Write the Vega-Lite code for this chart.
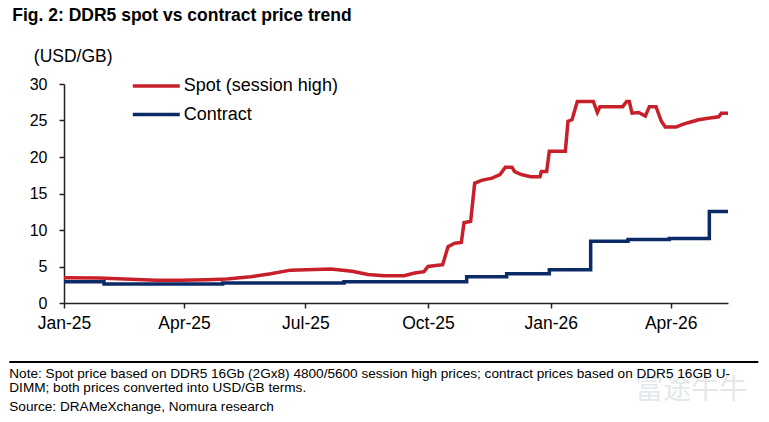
{
  "$schema": "https://vega.github.io/schema/vega-lite/v6.json",
  "padding": {"left": 8, "top": 6, "right": 5, "bottom": 0},
  "background": "white",
  "title": {
    "text": "Fig. 2: DDR5 spot vs contract price trend",
    "anchor": "start",
    "frame": "bounds",
    "font": "Liberation Sans",
    "fontSize": 17.5,
    "fontWeight": "bold",
    "color": "#000",
    "dx": 4,
    "offset": 23.5
  },
  "spacing": 29,
  "datasets": {
    "spot": [
      {"date": "2025-01-01", "series": "Spot (session high)", "value": 3.45},
      {"date": "2025-01-27", "series": "Spot (session high)", "value": 3.42},
      {"date": "2025-02-20", "series": "Spot (session high)", "value": 3.25},
      {"date": "2025-03-11", "series": "Spot (session high)", "value": 3.1},
      {"date": "2025-03-30", "series": "Spot (session high)", "value": 3.1},
      {"date": "2025-04-18", "series": "Spot (session high)", "value": 3.2},
      {"date": "2025-05-03", "series": "Spot (session high)", "value": 3.3},
      {"date": "2025-05-21", "series": "Spot (session high)", "value": 3.6},
      {"date": "2025-06-05", "series": "Spot (session high)", "value": 4.0},
      {"date": "2025-06-20", "series": "Spot (session high)", "value": 4.5},
      {"date": "2025-07-20", "series": "Spot (session high)", "value": 4.65},
      {"date": "2025-08-05", "series": "Spot (session high)", "value": 4.35},
      {"date": "2025-08-17", "series": "Spot (session high)", "value": 3.9},
      {"date": "2025-08-29", "series": "Spot (session high)", "value": 3.75},
      {"date": "2025-09-13", "series": "Spot (session high)", "value": 3.75},
      {"date": "2025-09-21", "series": "Spot (session high)", "value": 4.1},
      {"date": "2025-09-28", "series": "Spot (session high)", "value": 4.3},
      {"date": "2025-10-01", "series": "Spot (session high)", "value": 5.0},
      {"date": "2025-10-12", "series": "Spot (session high)", "value": 5.25},
      {"date": "2025-10-16", "series": "Spot (session high)", "value": 7.7},
      {"date": "2025-10-21", "series": "Spot (session high)", "value": 8.2},
      {"date": "2025-10-26", "series": "Spot (session high)", "value": 8.3},
      {"date": "2025-10-28", "series": "Spot (session high)", "value": 11.0},
      {"date": "2025-11-02", "series": "Spot (session high)", "value": 11.2},
      {"date": "2025-11-05", "series": "Spot (session high)", "value": 16.4},
      {"date": "2025-11-10", "series": "Spot (session high)", "value": 16.8},
      {"date": "2025-11-18", "series": "Spot (session high)", "value": 17.1},
      {"date": "2025-11-24", "series": "Spot (session high)", "value": 17.6},
      {"date": "2025-11-28", "series": "Spot (session high)", "value": 18.6},
      {"date": "2025-12-03", "series": "Spot (session high)", "value": 18.6},
      {"date": "2025-12-05", "series": "Spot (session high)", "value": 18.0},
      {"date": "2025-12-10", "series": "Spot (session high)", "value": 17.6},
      {"date": "2025-12-17", "series": "Spot (session high)", "value": 17.3},
      {"date": "2025-12-24", "series": "Spot (session high)", "value": 17.3},
      {"date": "2025-12-25", "series": "Spot (session high)", "value": 18.0},
      {"date": "2025-12-29", "series": "Spot (session high)", "value": 18.0},
      {"date": "2025-12-31", "series": "Spot (session high)", "value": 20.8},
      {"date": "2026-01-12", "series": "Spot (session high)", "value": 20.8},
      {"date": "2026-01-14", "series": "Spot (session high)", "value": 24.9},
      {"date": "2026-01-17", "series": "Spot (session high)", "value": 25.1},
      {"date": "2026-01-21", "series": "Spot (session high)", "value": 27.6},
      {"date": "2026-02-02", "series": "Spot (session high)", "value": 27.6},
      {"date": "2026-02-05", "series": "Spot (session high)", "value": 26.1},
      {"date": "2026-02-07", "series": "Spot (session high)", "value": 26.9},
      {"date": "2026-02-24", "series": "Spot (session high)", "value": 26.9},
      {"date": "2026-02-27", "series": "Spot (session high)", "value": 27.6},
      {"date": "2026-03-01", "series": "Spot (session high)", "value": 27.6},
      {"date": "2026-03-03", "series": "Spot (session high)", "value": 26.0},
      {"date": "2026-03-08", "series": "Spot (session high)", "value": 26.1},
      {"date": "2026-03-13", "series": "Spot (session high)", "value": 25.6},
      {"date": "2026-03-16", "series": "Spot (session high)", "value": 26.9},
      {"date": "2026-03-21", "series": "Spot (session high)", "value": 26.9},
      {"date": "2026-03-25", "series": "Spot (session high)", "value": 24.9},
      {"date": "2026-03-28", "series": "Spot (session high)", "value": 24.1},
      {"date": "2026-04-05", "series": "Spot (session high)", "value": 24.1},
      {"date": "2026-04-09", "series": "Spot (session high)", "value": 24.4},
      {"date": "2026-04-14", "series": "Spot (session high)", "value": 24.7},
      {"date": "2026-04-22", "series": "Spot (session high)", "value": 25.1},
      {"date": "2026-04-29", "series": "Spot (session high)", "value": 25.3},
      {"date": "2026-05-07", "series": "Spot (session high)", "value": 25.5},
      {"date": "2026-05-09", "series": "Spot (session high)", "value": 26.0},
      {"date": "2026-05-14", "series": "Spot (session high)", "value": 26.0}
    ],
    "contract": [
      {"date": "2025-01-01", "series": "Contract", "value": 2.9},
      {"date": "2025-01-31", "series": "Contract", "value": 2.6},
      {"date": "2025-04-30", "series": "Contract", "value": 2.75},
      {"date": "2025-07-30", "series": "Contract", "value": 2.9},
      {"date": "2025-10-30", "series": "Contract", "value": 3.6},
      {"date": "2025-11-29", "series": "Contract", "value": 4.0},
      {"date": "2025-12-31", "series": "Contract", "value": 4.55},
      {"date": "2026-01-31", "series": "Contract", "value": 8.45},
      {"date": "2026-02-28", "series": "Contract", "value": 8.7},
      {"date": "2026-03-31", "series": "Contract", "value": 8.85},
      {"date": "2026-04-30", "series": "Contract", "value": 12.55},
      {"date": "2026-05-14", "series": "Contract", "value": 12.55}
    ],
    "sep": [
      {"kind": "sep"}
    ],
    "notes": [
      {"kind": "Note", "text": "Note: Spot price based on DDR5 16Gb (2Gx8) 4800/5600 session high prices; contract prices based on DDR5 16GB U-\nDIMM; both prices converted into USD/GB terms."},
      {"kind": "Source", "text": "Source: DRAMeXchange, Nomura research"}
    ],
    "wm": [
      {"kind": "wm", "text": "富途牛牛"}
    ]
  },
  "config": {
    "font": "Liberation Sans",
    "view": {"stroke": null},
    "axis": {
      "grid": false,
      "labelColor": "#000",
      "labelFont": "Liberation Sans",
      "domainColor": "#222",
      "tickColor": "#222",
      "domainWidth": 1.5,
      "tickWidth": 1.5
    },
    "legend": {
      "orient": "none",
      "legendX": 83.3,
      "legendY": -7,
      "title": null,
      "padding": 0,
      "symbolType": "M-4.7,0H4.7",
      "symbolSize": 100,
      "symbolStrokeWidth": 3.5,
      "symbolFillColor": "transparent",
      "labelFont": "Liberation Sans",
      "labelFontSize": 18,
      "labelColor": "#000",
      "labelOffset": 18.5,
      "rowPadding": 10.5
    }
  },
  "vconcat": [
    {
      "width": 664,
      "height": 219,
      "encoding": {
        "x": {
          "field": "date",
          "type": "temporal",
          "scale": {"type": "utc", "nice": false},
          "axis": {
            "format": "%b-%y",
            "tickCount": {"interval": "month", "step": 3},
            "labelFlush": false,
            "labelOverlap": false,
            "tickSize": 5,
            "labelPadding": 6,
            "labelFontSize": 17.5,
            "title": null
          }
        },
        "y": {
          "field": "value",
          "type": "quantitative",
          "scale": {"domain": [0, 30], "nice": false},
          "axis": {
            "values": [0, 5, 10, 15, 20, 25, 30],
            "tickSize": 5,
            "labelPadding": 12,
            "labelFontSize": 16,
            "minExtent": 54.7,
            "title": "(USD/GB)",
            "titleAngle": 0,
            "titleAlign": "left",
            "titleBaseline": "alphabetic",
            "titleX": -30.7,
            "titleY": -22.3,
            "titleFont": "Liberation Sans",
            "titleFontSize": 17.5,
            "titleFontWeight": "normal",
            "titleColor": "#000"
          }
        },
        "color": {
          "field": "series",
          "type": "nominal",
          "scale": {"domain": ["Spot (session high)", "Contract"], "range": ["#c8202a", "#0c2a66"]}
        }
      },
      "layer": [
        {
          "data": {"name": "spot"},
          "mark": {"type": "line", "strokeWidth": 3.5, "interpolate": "linear"}
        },
        {
          "data": {"name": "contract"},
          "mark": {"type": "line", "strokeWidth": 3.5, "interpolate": "step-after"}
        }
      ]
    },
    {
      "width": 694.3,
      "height": 49,
      "encoding": {
        "y": {
          "field": "kind",
          "type": "nominal",
          "scale": {"type": "point", "domain": ["sep", "Note", "wm", "Source"], "padding": 0},
          "axis": null
        }
      },
      "layer": [
        {
          "data": {"name": "wm"},
          "mark": {"type": "text", "align": "right", "baseline": "alphabetic", "dx": -11, "dy": 4, "fontSize": 28, "font": "Noto Sans CJK SC", "color": "#e3e8ec"},
          "encoding": {
            "x": {"datum": 1, "type": "quantitative", "scale": {"domain": [0, 1], "nice": false, "zero": false}, "axis": null},
            "text": {"field": "text"}
          }
        },
        {
          "data": {"name": "sep"},
          "mark": {"type": "rule", "strokeWidth": 2, "color": "#000", "xOffset": -54.7},
          "encoding": {
            "x": {"datum": 0, "type": "quantitative"},
            "x2": {"datum": 1}
          }
        },
        {
          "data": {"name": "notes"},
          "mark": {"type": "text", "align": "left", "baseline": "alphabetic", "dx": -54.7, "fontSize": 13.6, "lineBreak": "\n", "lineHeight": 14, "color": "#000", "font": "Liberation Sans"},
          "encoding": {
            "x": {"datum": 0, "type": "quantitative"},
            "text": {"field": "text"}
          }
        }
      ]
    }
  ]
}
